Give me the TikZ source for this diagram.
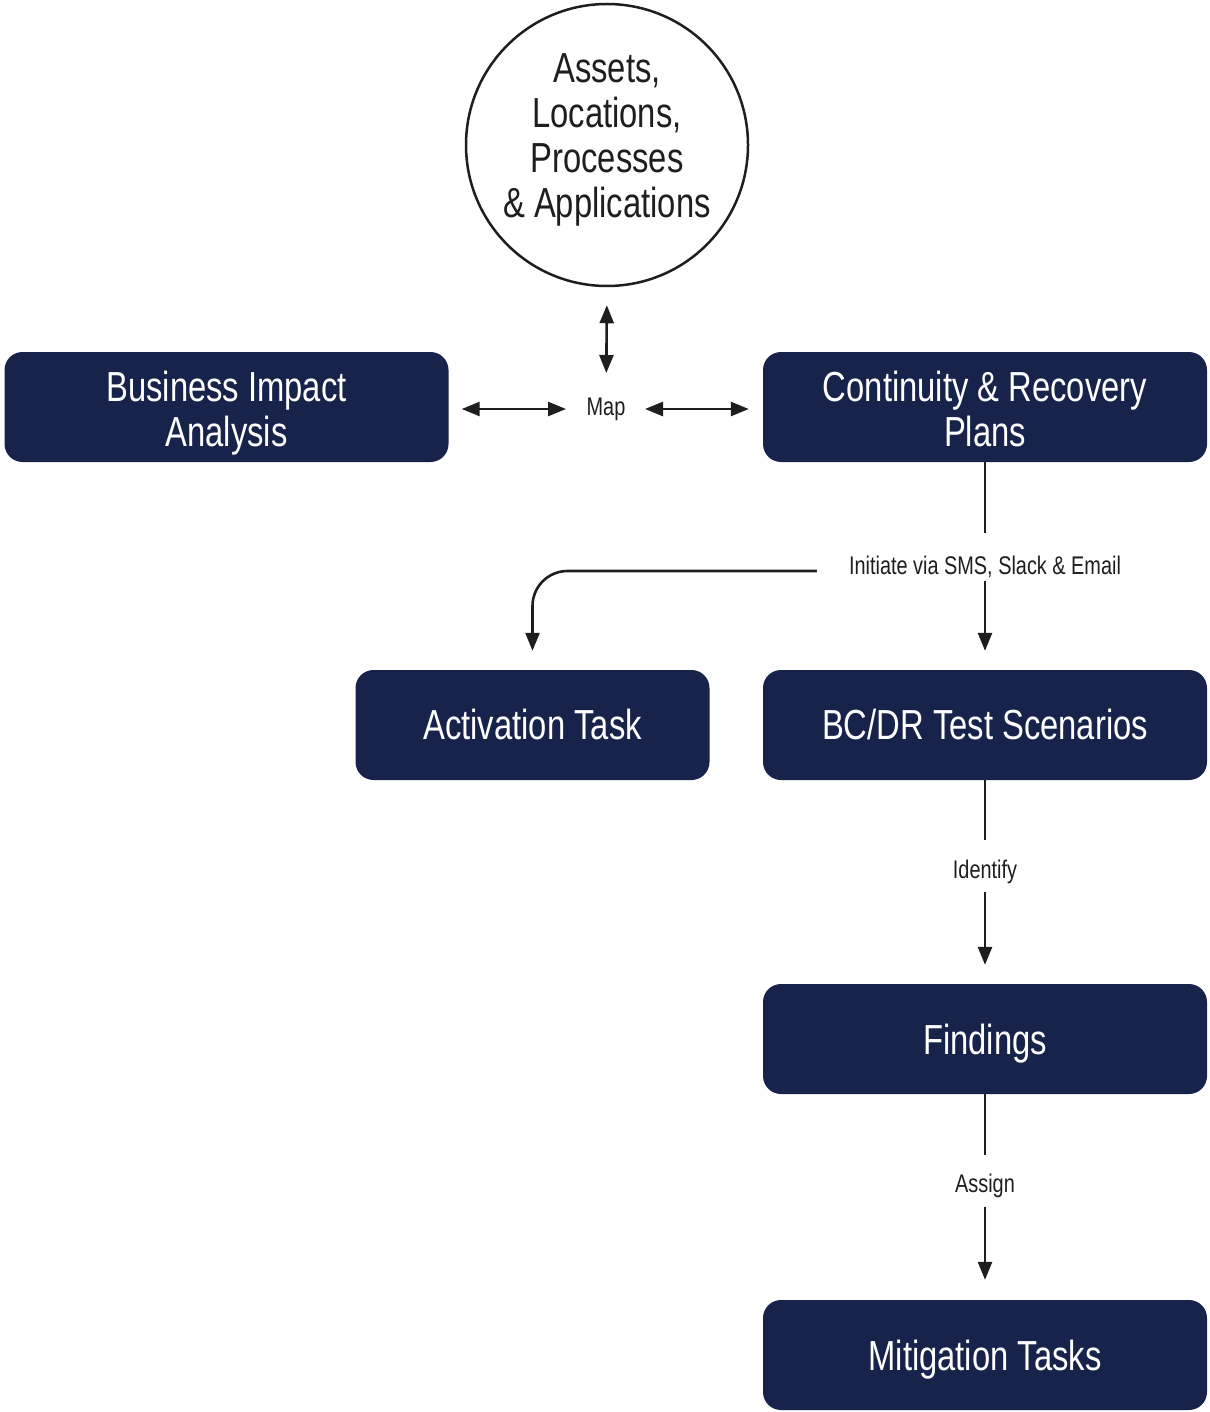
\documentclass[tikz,border=0pt]{standalone}
\usepackage{fontspec}
\setmainfont[FakeStretch=0.78]{Liberation Sans}
\usetikzlibrary{arrows.meta,calc}
\definecolor{navy}{HTML}{18234C}
\definecolor{ink}{HTML}{1E1E1E}
\newcommand{\btxt}[2]{\raisebox{#1}[\height][\depth]{\begin{tabular}{@{}c@{}}#2\end{tabular}}}
\begin{document}
\begin{tikzpicture}[x=1pt,y=-1pt,
 box/.style={fill=navy, rounded corners=18pt, text=white, minimum width=444pt, minimum height=110pt, inner sep=0pt, font=\fontsize{42}{45}\selectfont, align=center},
 lbl/.style={text=ink, font=\fontsize{25.5}{28}\selectfont, inner sep=0pt},
 con/.style={draw=ink, line width=2.6pt},
 arr/.style={con, -{Triangle[length=18pt,width=14pt]}},
 darr/.style={con, {Triangle[length=18pt,width=14pt]}-{Triangle[length=18pt,width=14pt]}}]
\useasboundingbox (0,0) rectangle (1209,1412);
\fill[white] (0,0) rectangle (1209,1412);

\node[draw=ink, line width=2.5pt, circle, minimum size=282pt, inner sep=0pt, align=center, text=ink, font=\fontsize{42}{45}\selectfont] (assets) at (607,145) {\btxt{4pt}{Assets,\\Locations,\\Processes\\\& Applications}};

\node[box] (bia) at (226.5,407) {\btxt{-7.5pt}{Business Impact\\Analysis}};
\node[box] (crp) at (985,407) {\btxt{-7.5pt}{Continuity \& Recovery\\Plans}};
\node[box, minimum width=354pt] (act) at (532.5,725) {\btxt{-5.5pt}{Activation Task}};
\node[box] (bcdr) at (985,725) {\btxt{-5.5pt}{BC/DR Test Scenarios}};
\node[box] (find) at (985,1039) {\btxt{-6pt}{Findings}};
\node[box] (mit) at (985,1355) {\btxt{-6pt}{Mitigation Tasks}};

\node[lbl] (map) at (606,409) {Map};
\node[lbl] (init) at (985,567) {Initiate via SMS, Slack \& Email};
\node[lbl] (ident) at (985,872) {Identify};
\node[lbl] (assign) at (985,1186) {Assign};

\draw[darr, shorten <=18pt, shorten >=36pt] (assets.south) -- (map.center);
\draw[darr, shorten <=13pt, shorten >=40pt] (bia.east |- map.center) -- (map.center);
\draw[darr, shorten <=39pt, shorten >=14pt] (map.center) -- (crp.west |- map.center);

\draw[con, shorten >=34pt] (crp.south) -- (init.center);
\draw[arr, shorten <=14pt, shorten >=19pt] (init.center) -- (bcdr.north);
\draw[arr, rounded corners=35pt, shorten >=19pt] ($(init.west)+(-32,4)$) -| (act.north);

\draw[con, shorten >=32pt] (bcdr.south) -- (ident.center);
\draw[arr, shorten <=20pt, shorten >=19pt] (ident.center) -- (find.north);

\draw[con, shorten >=31pt] (find.south) -- (assign.center);
\draw[arr, shorten <=21pt, shorten >=20pt] (assign.center) -- (mit.north);
\end{tikzpicture}
\end{document}
